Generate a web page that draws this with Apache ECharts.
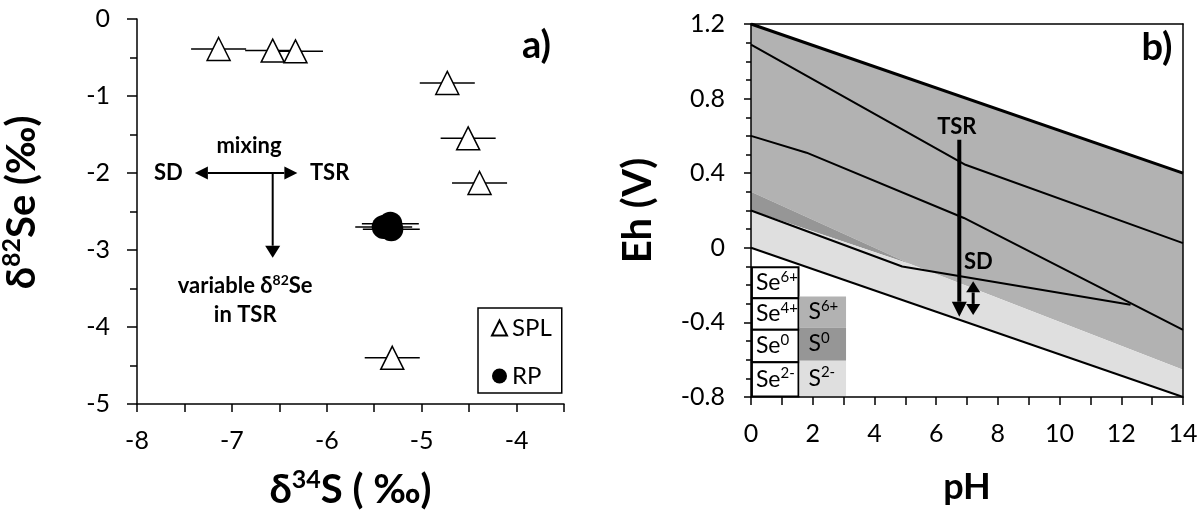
<!DOCTYPE html>
<html><head><meta charset="utf-8">
<script src="https://cdn.jsdelivr.net/npm/echarts@6/dist/echarts.min.js"></script>
<style>html,body{margin:0;padding:0;background:#fff}#c{width:1204px;height:523px}</style>
</head><body><div id="c"></div>
<script>
// ---------- Panel a data ----------
const splX = [-7.14, -6.57, -6.33, -4.73, -4.51, -4.39, -5.31];
const splY = [-0.39, -0.41, -0.42, -0.83, -1.55, -2.13, -4.40];
const splErr = [0.29, 0.29, 0.29, 0.29, 0.29, 0.29, 0.29];
const rpX = [-5.33, -5.40, -5.32];
const rpY = [-2.66, -2.70, -2.73];
const rpErr = [0.30, 0.30, 0.30];
const aXLabels = [-8, -7, -6, -5, -4];
const aYLabels = [0, -1, -2, -3, -4, -5];
const mixArrow = [-7.39, -2.0, -6.31, -2.0];
const trendArrow = [-6.57, -2.0, -6.57, -3.10];
const aNotes = ['mixing', 'SD', 'TSR', '{n|variable δ}{s|82}{n|Se}', 'in TSR', 'a)'];
const aNoteX = [-6.82, -7.67, -5.97, -6.86, -6.86, -3.79];
const aNoteY = [-1.645, -2.0, -2.0, -3.47, -3.845, -0.35];

// ---------- Panel b data ----------
const waterUpper = [[0, 1.2], [14, 0.4]];
const waterLower = [[0, 0], [14, -0.8]];
const seLine1 = [[0, 1.09], [6.95, 0.445], [14, 0.025]];
const seLine2 = [[0, 0.6], [1.8, 0.51], [6.9, 0.16], [14, -0.44]];
const seLine3 = [[0, 0.2], [4.9, -0.1], [12.3, -0.305]];
const s6Region = [[0, 1.2], [14, 0.4], [14, -0.654], [5.2, -0.09], [0, 0.3]];
const s0Region = [[0, 0.3], [5.2, -0.09], [0, 0.2]];
const s2Region = [[0, 0.2], [5.2, -0.09], [14, -0.654], [14, -0.8], [0, 0]];
const tsrArrowB = [6.75, 0.58, 6.75, -0.37];
const sdArrowB = [7.2, -0.18, 7.2, -0.36];
const bNotes = ['TSR', 'SD', 'b)'];
const bNoteX = [6.67, 7.37, 13.16];
const bNoteY = [0.65, -0.073, 1.07];
const bYLabels = [1.2, 0.8, 0.4, 0, -0.4, -0.8];
const bXLabels = [0, 2, 4, 6, 8, 10, 12, 14];
// table (key)
const seNames = ['Se{s|6+}', 'Se{s|4+}', 'Se{s|0}', 'Se{s|2-}'];
const seEdges = [-0.104, -0.27, -0.439, -0.614, -0.797];
const seCol = [0.03, 1.54];
const sNames = ['S{s|6+}', 'S{s|0}', 'S{s|2-}'];
const sEdges = [-0.261, -0.427, -0.605, -0.795];
const sCol = [1.57, 3.08];

// ---------- styles ----------
const FONT = 'Lato';
const regionPolys = [s6Region, s0Region, s2Region];
const regionColors = ['#b2b2b2', '#969696', '#dfdfdf'];

const tickStyle = {color: '#000', width: 1.5};
function titleRich(size) {
  return {
    b: {fontFamily: FONT, fontWeight: 'bold', fontSize: size, lineHeight: size + 6, color: '#000'},
    s: {fontFamily: FONT, fontWeight: 'bold', fontSize: Math.round(size * 0.62), lineHeight: Math.round(size * 0.62), verticalAlign: 'top', color: '#000'},
    g: {fontFamily: FONT, fontSize: size, width: 18}
  };
}
function mkAxis(extra) {
  return Object.assign({
    type: 'value', z: 5,
    axisLine: {show: true, onZero: false, lineStyle: {color: '#000', width: 1.5}},
    axisTick: {show: true, inside: false, length: 8, lineStyle: tickStyle},
    splitLine: {show: false},
    axisLabel: {color: '#000', fontFamily: FONT, fontSize: 25, hideOverlap: false},
    nameLocation: 'middle',
    nameTextStyle: {color: '#000', rich: titleRich(40)}
  }, extra);
}

function arrowEls(p1, p2, w, hl, hw, dbl) {
  const dx = p2[0] - p1[0], dy = p2[1] - p1[1], L = Math.hypot(dx, dy);
  const ux = dx / L, uy = dy / L, nx = -uy, ny = ux;
  const s = dbl ? [p1[0] + ux * hl, p1[1] + uy * hl] : p1;
  const e = [p2[0] - ux * hl, p2[1] - uy * hl];
  const els = [
    {type: 'line', shape: {x1: s[0], y1: s[1], x2: e[0], y2: e[1]}, style: {stroke: '#000', lineWidth: w}},
    {type: 'polygon', shape: {points: [p2, [e[0] + nx * hw / 2, e[1] + ny * hw / 2], [e[0] - nx * hw / 2, e[1] - ny * hw / 2]]}, style: {fill: '#000'}}
  ];
  if (dbl) els.push({type: 'polygon', shape: {points: [p1, [s[0] + nx * hw / 2, s[1] + ny * hw / 2], [s[0] - nx * hw / 2, s[1] - ny * hw / 2]]}, style: {fill: '#000'}});
  return els;
}

function errBars(name, xs, ys, es) {
  return {
    type: 'custom', name: name, xAxisIndex: 0, yAxisIndex: 0, z: 2, silent: true,
    data: xs.map((x, i) => [x, ys[i], es[i]]),
    encode: {x: 0, y: 1},
    renderItem: (params, api) => {
      const x = api.value(0), y = api.value(1), e = api.value(2);
      const a = api.coord([x - e, y]), b = api.coord([x + e, y]);
      return {type: 'line', shape: {x1: a[0], y1: a[1], x2: b[0], y2: b[1]}, style: {stroke: '#000', lineWidth: 1.5}};
    }
  };
}

const noteRich = {
  n: {fontFamily: FONT, fontWeight: 'bold', fontSize: 22, lineHeight: 26, color: '#000'},
  s: {fontFamily: FONT, fontWeight: 'bold', fontSize: 14, lineHeight: 14, verticalAlign: 'top', color: '#000'}
};
function notesSeries(name, xi, yi, texts, xs, ys, bigIndex) {
  return {
    type: 'custom', name: name, xAxisIndex: xi, yAxisIndex: yi, z: 10, silent: true,
    data: xs.map((x, i) => [x, ys[i]]), encode: {x: 0, y: 1},
    renderItem: (params, api) => {
      const p = api.coord([api.value(0), api.value(1)]);
      const t = texts[params.dataIndex];
      const big = params.dataIndex === bigIndex;
      const txt = t.indexOf('{') >= 0 ? t : '{n|' + t + '}';
      const rich = big ? {n: {fontFamily: FONT, fontWeight: 'bold', fontSize: 38, lineHeight: 42, color: '#000'}} : noteRich;
      return {type: 'text', x: p[0], y: p[1], style: {text: txt, rich: rich, align: 'center', verticalAlign: 'middle', fill: '#000'}};
    }
  };
}
const cellRich = {
  n: {fontFamily: FONT, fontSize: 23, lineHeight: 27, color: '#000'},
  s: {fontFamily: FONT, fontSize: 15, lineHeight: 15, verticalAlign: 'top', color: '#000'}
};

const option = {
  animation: false,
  backgroundColor: '#fff',
  grid: [
    {left: 137, top: 19, width: 427, height: 385, outerBoundsMode: 'none', containLabel: false},
    {left: 751, top: 24, width: 432, height: 373, outerBoundsMode: 'none', containLabel: false}
  ],
  legend: {
    data: ['SPL', 'RP'], orient: 'vertical', left: 478, top: 308,
    padding: [8, 10, 5, 13], itemWidth: 15, itemHeight: 15, itemGap: 24,
    backgroundColor: '#fff', borderColor: '#000', borderWidth: 1.5, borderRadius: 0,
    selectedMode: false,
    textStyle: {fontFamily: FONT, fontSize: 24, color: '#000', lineHeight: 24}
  },
  xAxis: [
    mkAxis({gridIndex: 0, min: -8, max: -3.5, interval: 0.5,
      axisLabel: {color: '#000', fontFamily: FONT, fontSize: 25, margin: 24, hideOverlap: false, showMaxLabel: true,
        formatter: v => aXLabels.indexOf(Math.round(v * 10) / 10) >= 0 ? String(Math.round(v)) : ''},
      name: '{b|δ}{s|34}{b|S ( ‰)}', nameGap: 63}),
    mkAxis({gridIndex: 1, min: 0, max: 14, interval: 2,
      minorTick: {show: true, splitNumber: 2, length: 8, lineStyle: tickStyle},
      axisLabel: {color: '#000', fontFamily: FONT, fontSize: 25, margin: 24, hideOverlap: false,
        formatter: v => bXLabels.indexOf(Math.round(v)) >= 0 ? String(Math.round(v)) : ''},
      name: '{b|pH}', nameGap: 69, nameTextStyle: {color: '#000', rich: titleRich(36)}}),
    mkAxis({gridIndex: 1, min: 0, max: 14, position: 'top', axisTick: {show: false}, axisLabel: {show: false}})
  ],
  yAxis: [
    mkAxis({gridIndex: 0, min: -5, max: 0, interval: 1,
      axisTick: {show: true, length: 10, lineStyle: tickStyle},
      minorTick: {show: true, splitNumber: 2, length: 7, lineStyle: tickStyle},
      axisLabel: {color: '#000', fontFamily: FONT, fontSize: 25, margin: 27, hideOverlap: false,
        formatter: v => aYLabels.indexOf(Math.round(v)) >= 0 ? String(Math.round(v)) : ''},
      name: '{g| }{b|δ}{s|82}{b|Se (‰)}', nameGap: 92}),
    mkAxis({gridIndex: 1, min: -0.8, max: 1.2, interval: 0.4,
      axisTick: {show: true, length: 7, lineStyle: tickStyle},
      minorTick: {show: true, splitNumber: 4, length: 5, lineStyle: tickStyle},
      axisLabel: {color: '#000', fontFamily: FONT, fontSize: 25, margin: 26, hideOverlap: false,
        formatter: v => { const r = Math.round(v * 10) / 10; return bYLabels.indexOf(r) >= 0 ? (r === 0 ? '0' : r.toFixed(1)) : ''; }},
      name: '{b|Eh (V)}', nameGap: 90}),
    mkAxis({gridIndex: 1, min: -0.8, max: 1.2, position: 'right', axisTick: {show: false}, axisLabel: {show: false}})
  ],
  series: [
    errBars('errSPL', splX, splY, splErr),
    errBars('errRP', rpX, rpY, rpErr),
    {type: 'scatter', name: 'SPL', xAxisIndex: 0, yAxisIndex: 0, z: 3,
      symbol: 'triangle', symbolSize: 23,
      itemStyle: {color: '#fff', borderColor: '#000', borderWidth: 1.5, opacity: 1},
      data: splX.map((x, i) => [x, splY[i]])},
    {type: 'scatter', name: 'RP', xAxisIndex: 0, yAxisIndex: 0, z: 3,
      symbol: 'circle', symbolSize: 24,
      itemStyle: {color: '#000', borderColor: '#000', borderWidth: 0, opacity: 1},
      data: rpX.map((x, i) => [x, rpY[i]])},
    {type: 'custom', name: 'arrowsA', xAxisIndex: 0, yAxisIndex: 0, z: 4, silent: true,
      data: [mixArrow, trendArrow], encode: {x: [0, 2], y: [1, 3]},
      renderItem: (params, api) => {
        const a = api.coord([api.value(0), api.value(1)]), b = api.coord([api.value(2), api.value(3)]);
        const dbl = params.dataIndex === 0;
        return {type: 'group', children: dbl ? arrowEls(a, b, 2, 13, 13, true) : arrowEls(a, b, 2, 12, 15, false)};
      }},
    notesSeries('notesA', 0, 0, aNotes, aNoteX, aNoteY, 5),
    // panel b regions
    {type: 'custom', name: 'regions', xAxisIndex: 1, yAxisIndex: 1, z: 1, silent: true,
      data: regionPolys.map(p => p[0]), encode: {x: 0, y: 1},
      renderItem: (params, api) => ({
        type: 'polygon',
        shape: {points: regionPolys[params.dataIndex].map(pt => api.coord(pt))},
        style: {fill: regionColors[params.dataIndex], stroke: null}
      })},
    {type: 'line', name: 'upper', xAxisIndex: 1, yAxisIndex: 1, z: 3, data: waterUpper, symbol: 'none', silent: true,
      lineStyle: {color: '#000', width: 3}},
    {type: 'line', name: 'lower', xAxisIndex: 1, yAxisIndex: 1, z: 3, data: waterLower, symbol: 'none', silent: true,
      lineStyle: {color: '#000', width: 2}},
    {type: 'line', name: 'l1', xAxisIndex: 1, yAxisIndex: 1, z: 3, data: seLine1, symbol: 'none', silent: true,
      lineStyle: {color: '#000', width: 2}},
    {type: 'line', name: 'l2', xAxisIndex: 1, yAxisIndex: 1, z: 3, data: seLine2, symbol: 'none', silent: true,
      lineStyle: {color: '#000', width: 2}},
    {type: 'line', name: 'l3', xAxisIndex: 1, yAxisIndex: 1, z: 3, data: seLine3, symbol: 'none', silent: true,
      lineStyle: {color: '#000', width: 2}},
    {type: 'custom', name: 'arrowsB', xAxisIndex: 1, yAxisIndex: 1, z: 4, silent: true,
      data: [tsrArrowB, sdArrowB], encode: {x: [0, 2], y: [1, 3]},
      renderItem: (params, api) => {
        const a = api.coord([api.value(0), api.value(1)]), b = api.coord([api.value(2), api.value(3)]);
        const dbl = params.dataIndex === 1;
        return {type: 'group', children: dbl ? arrowEls(a, b, 3, 11, 14, true) : arrowEls(a, b, 4, 15, 15, false)};
      }},
    notesSeries('notesB', 1, 1, bNotes, bNoteX, bNoteY, 2),
    // key table
    {type: 'custom', name: 'tableSe', xAxisIndex: 1, yAxisIndex: 1, z: 6, silent: true,
      data: seNames.map((n, i) => [seCol[0], seEdges[i], seCol[1], seEdges[i + 1]]), encode: {x: [0, 2], y: [1, 3]},
      renderItem: (params, api) => {
        const a = api.coord([api.value(0), api.value(1)]), b = api.coord([api.value(2), api.value(3)]);
        return {type: 'group', children: [
          {type: 'rect', shape: {x: a[0], y: a[1], width: b[0] - a[0], height: b[1] - a[1]}, style: {fill: '#fff', stroke: '#000', lineWidth: 2}},
          {type: 'text', x: a[0] + 4, y: (a[1] + b[1]) / 2, style: {text: '{n|' + seNames[params.dataIndex].replace('{s|', '}{s|'), align: 'left', verticalAlign: 'middle', rich: cellRich}}
        ]};
      }},
    {type: 'custom', name: 'tableS', xAxisIndex: 1, yAxisIndex: 1, z: 6, silent: true,
      data: sNames.map((n, i) => [sCol[0], sEdges[i], sCol[1], sEdges[i + 1]]), encode: {x: [0, 2], y: [1, 3]},
      renderItem: (params, api) => {
        const a = api.coord([api.value(0), api.value(1)]), b = api.coord([api.value(2), api.value(3)]);
        return {type: 'group', children: [
          {type: 'rect', shape: {x: a[0], y: a[1], width: b[0] - a[0], height: b[1] - a[1]}, style: {fill: regionColors[params.dataIndex]}},
          {type: 'text', x: a[0] + 9, y: (a[1] + b[1]) / 2, style: {text: '{n|' + sNames[params.dataIndex].replace('{s|', '}{s|'), align: 'left', verticalAlign: 'middle', rich: cellRich}}
        ]};
      }}
  ]
};
const chart = echarts.init(document.getElementById('c'), null, {renderer: 'canvas'});
chart.setOption(option);
</script></body></html>
